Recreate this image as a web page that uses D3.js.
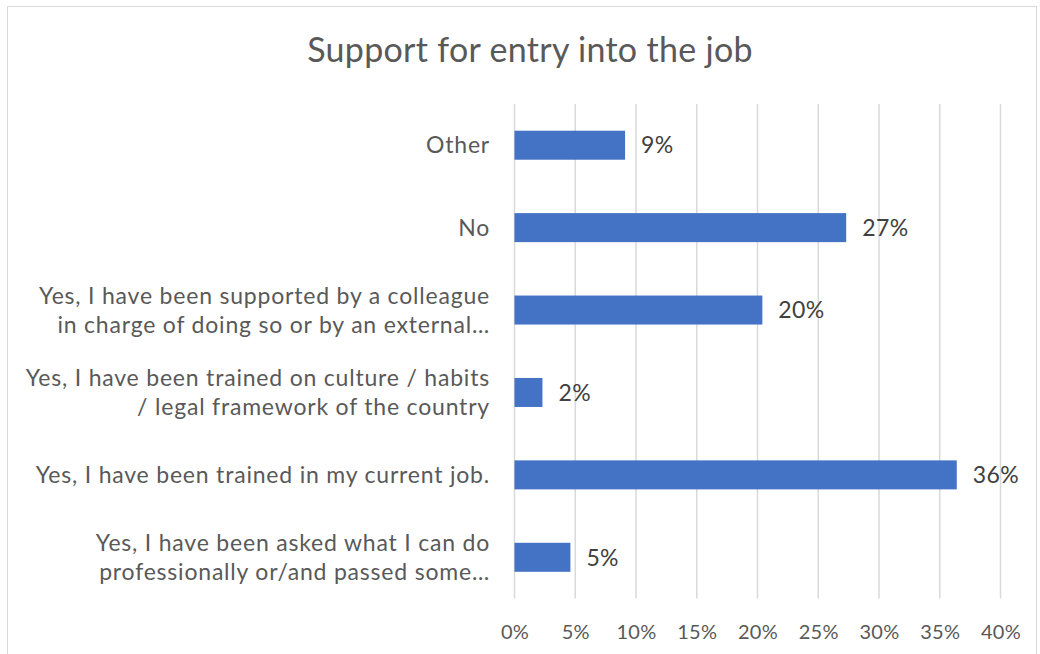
<!DOCTYPE html>
<html>
<head>
<meta charset="utf-8">
<script src="https://cdn.jsdelivr.net/npm/d3@7/dist/d3.min.js"></script>
<style>
  html, body { margin: 0; padding: 0; background: #fff; }
  svg { display: block; }
  text { font-family: Lato, "Open Sans", sans-serif; }
</style>
</head>
<body>
<svg id="chart" width="1040" height="654"></svg>
<script>
// Survey answers, top to bottom as shown
const categories = [
  ["Other"],
  ["No"],
  ["Yes, I have been supported by a colleague", "in charge of doing so or by an external\u2026"],
  ["Yes, I have been trained on culture / habits", "/ legal framework of the country"],
  ["Yes, I have been trained in my current job."],
  ["Yes, I have been asked what I can do", "professionally or/and passed some\u2026"]
];
const shares = [0.091, 0.273, 0.204, 0.023, 0.364, 0.046];
const tickValues = [0, 0.05, 0.10, 0.15, 0.20, 0.25, 0.30, 0.35, 0.40];
const title = "Support for entry into the job";

const plot = { left: 514.5, right: 1000.5, top: 104, bottom: 598.5 };

const svg = d3.select("#chart");

// chart frame
svg.append("rect")
  .attr("x", 7.5).attr("y", 6.5)
  .attr("width", 1029).attr("height", 660)
  .attr("fill", "#fff").attr("stroke", "#d9d9d9").attr("stroke-width", 1);

const x = d3.scaleLinear().domain([0, 0.40]).range([plot.left, plot.right]);
const y = d3.scaleBand()
  .domain(d3.range(categories.length))
  .range([plot.top, plot.bottom])
  .paddingInner(0.648).paddingOuter(0.324);

// vertical gridlines
svg.append("g")
  .selectAll("line")
  .data(tickValues)
  .join("line")
  .attr("x1", d => x(d)).attr("x2", d => x(d))
  .attr("y1", plot.top).attr("y2", plot.bottom)
  .attr("stroke", "#d9d9d9").attr("stroke-width", 1.5);

// x axis tick labels
const xAxis = d3.axisBottom(x).tickValues(tickValues).tickFormat(d3.format(".0%")).tickSize(0).tickPadding(0);
const gx = svg.append("g").attr("transform", `translate(0,${plot.bottom + 26})`).call(xAxis);
gx.select(".domain").remove();
gx.selectAll("text")
  .attr("font-family", "Lato, 'Open Sans', sans-serif")
  .attr("font-size", 20)
  .attr("letter-spacing", 0.3)
  .attr("fill", "#595959")
  .attr("dy", "0.36em")
  .attr("y", 7);

// bars
svg.append("g")
  .selectAll("rect")
  .data(shares)
  .join("rect")
  .attr("x", x(0))
  .attr("y", (d, i) => y(i))
  .attr("width", d => x(d) - x(0))
  .attr("height", y.bandwidth())
  .attr("fill", "#4472c4");

// value labels
svg.append("g")
  .selectAll("text")
  .data(shares)
  .join("text")
  .attr("x", d => x(d) + 16)
  .attr("y", (d, i) => y(i) + y.bandwidth() / 2)
  .attr("dy", "0.36em")
  .attr("font-size", 23)
  .attr("letter-spacing", 0.4)
  .attr("fill", "#404040")
  .text(d => d3.format(".0%")(d));

// category labels
const lineH = 28.5;
const cat = svg.append("g")
  .selectAll("text")
  .data(categories)
  .join("text")
  .attr("text-anchor", "end")
  .attr("font-size", 23)
  .attr("letter-spacing", 0.8)
  .attr("fill", "#595959")
  .attr("x", 490)
  .attr("y", (d, i) => y(i) + y.bandwidth() / 2 - (d.length - 1) * lineH / 2);
cat.selectAll("tspan")
  .data(d => d)
  .join("tspan")
  .attr("x", 490)
  .attr("dy", (d, j) => j === 0 ? "0.36em" : lineH)
  .text(d => d);

// title
svg.append("text")
  .attr("x", 530).attr("y", 62)
  .attr("text-anchor", "middle")
  .attr("font-size", 34)
  .attr("letter-spacing", 0.3)
  .attr("fill", "#595959")
  .text(title);
</script>
</body>
</html>
